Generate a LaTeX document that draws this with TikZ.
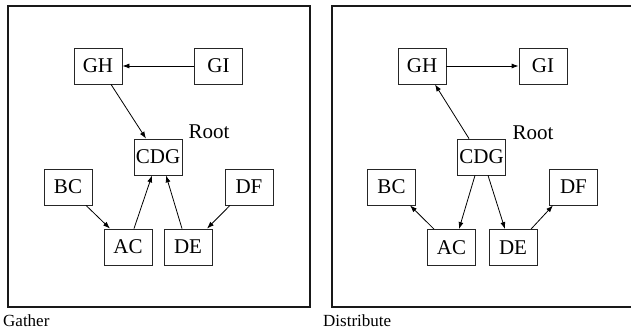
\documentclass[tikz,border=0pt]{standalone}
\usepackage{fontspec}
\setmainfont{Liberation Serif}
\usetikzlibrary{arrows.meta}
\tikzset{
  box/.style={draw=black!85, line width=0.8pt, minimum width=48pt, minimum height=36pt,
    inner sep=0pt, font=\fontsize{21}{21}\selectfont},
  rootlabel/.style={font=\fontsize{21}{21}\selectfont, inner sep=0pt},
  caption/.style={font=\fontsize{17}{17}\selectfont, inner sep=0pt, anchor=base west},
  frame/.style={draw=black!90, line width=2pt},
  edge/.style={draw=black, line width=0.8pt, -{Latex[length=7pt,width=5pt]}}
}
\begin{document}
\begin{tikzpicture}[x=1pt,y=-1pt]
\useasboundingbox (0,0) rectangle (631,331);

% Gather panel
\draw[frame] (8,6) rectangle (310,307);
\node[box] (lgh)  at (98,66)    {GH};
\node[box] (lgi)  at (218.5,66) {GI};
\node[box] (lcdg) at (158,157)  {CDG};
\node[box] (lbc)  at (68,187)   {BC};
\node[box] (ldf)  at (249,187)  {DF};
\node[box] (lac)  at (128,247)  {AC};
\node[box] (lde)  at (188,247)  {DE};
\node[rootlabel] (lroot) at (209,132) {Root};
\node[caption] (lcap) at (3,326) {Gather};

\draw[edge] (lgi.west) -- (lgh.east);
\draw[edge] ([xshift=13pt]lgh.south) -- ([xshift=-12pt]lcdg.north);
\draw[edge] ([xshift=6pt]lac.north) -- ([xshift=-6pt]lcdg.south);
\draw[edge] ([xshift=-6pt]lde.north) -- ([xshift=8pt]lcdg.south);
\draw[edge] ([xshift=18pt]lbc.south) -- ([xshift=-18pt]lac.north);
\draw[edge] ([xshift=-19pt]ldf.south) -- ([xshift=19pt]lde.north);

% Distribute panel
\draw[frame] (332,6) rectangle (633,307);
\node[box] (rgh)  at (422,66)    {GH};
\node[box] (rgi)  at (543,66)    {GI};
\node[box] (rcdg) at (481.5,157) {CDG};
\node[box] (rbc)  at (391.5,187) {BC};
\node[box] (rdf)  at (573.5,187) {DF};
\node[box] (rac)  at (451.5,247.5) {AC};
\node[box] (rde)  at (513,247.5) {DE};
\node[rootlabel] (rroot) at (533,133) {Root};
\node[caption] (rcap) at (323,326) {Distribute};

\draw[edge] (rgh.east) -- (rgi.west);
\draw[edge] ([xshift=-12.5pt]rcdg.north) -- ([xshift=13pt]rgh.south);
\draw[edge] ([xshift=-6.5pt]rcdg.south) -- ([xshift=7.5pt]rac.north);
\draw[edge] ([xshift=6.5pt]rcdg.south) -- ([xshift=-8pt]rde.north);
\draw[edge] ([xshift=-17.5pt]rac.north) -- ([xshift=18.5pt]rbc.south);
\draw[edge] ([xshift=18pt]rde.north) -- ([xshift=-20.5pt]rdf.south);
\end{tikzpicture}
\end{document}
